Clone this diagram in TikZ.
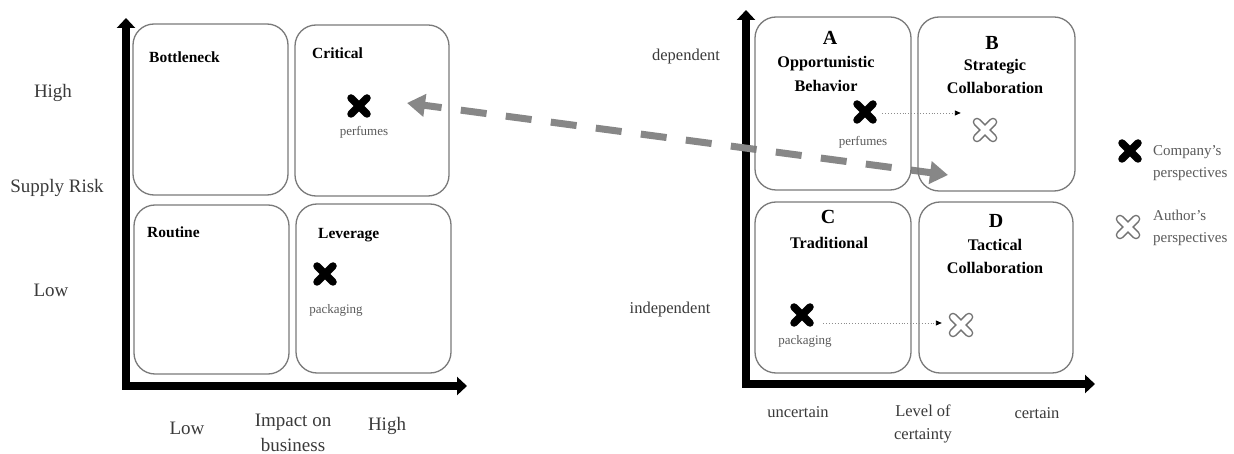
\documentclass[tikz,border=0pt]{standalone}
\usepackage{fontspec}
\setmainfont{Liberation Serif}
\usetikzlibrary{arrows.meta,calc}

\definecolor{labelgray}{HTML}{3A3A3A}
\definecolor{smallgray}{HTML}{5A5A5A}
\definecolor{boxgray}{HTML}{7A7A7A}
\definecolor{linkgray}{HTML}{878787}

\tikzset{
  quad/.style={draw=boxgray, line width=1.3pt, rounded corners=21pt, inner sep=0pt},
  axisline/.style={line width=8.5pt, line join=miter,
    {Triangle[length=10pt,width=18pt]}-{Triangle[length=10pt,width=18pt]}},
  txt/.style={inner sep=0pt, text=labelgray},
  bigaxis/.style={txt, font=\fontsize{19}{25}\selectfont, align=center},
  smallaxis/.style={txt, font=\fontsize{16.5}{23}\selectfont, align=center},
  ttl/.style={inner sep=0pt, font=\bfseries\fontsize{15.5}{18}\selectfont},
  rttl/.style={inner sep=0pt, font=\bfseries\fontsize{16.2}{23.5}\selectfont, align=center},
  letter/.style={inner sep=0pt, font=\bfseries\fontsize{20}{22}\selectfont},
  item/.style={inner sep=0pt, text=smallgray, font=\fontsize{13}{15}\selectfont},
  legtxt/.style={inner sep=0pt, text=smallgray, font=\fontsize{15}{22}\selectfont, align=left},
  xspot/.style={inner sep=0pt, minimum size=24pt},
  dotlink/.style={draw=black!45, line width=0.9pt, dotted,
    -{Triangle[length=6pt,width=5pt,fill=black,color=black]}},
  shiftlink/.style={draw=linkgray, line width=7pt, dash pattern=on 26pt off 19.4pt, dash phase=8pt,
    {Triangle[length=18pt,width=22pt]}-{Triangle[length=18pt,width=22pt]}},
  solidx/.pic={
    \draw[line width=7.5pt, line cap=round] (-8,-8) -- (8,8) (-8,8) -- (8,-8);
  },
  hollowx/.pic={
    \draw[line width=8.6pt, line cap=round, draw=black!55] (-8,-8) -- (8,8) (-8,8) -- (8,-8);
    \draw[line width=5.6pt, line cap=round, draw=white] (-8,-8) -- (8,8) (-8,8) -- (8,-8);
  }
}

\begin{document}
\begin{tikzpicture}[x=1pt,y=-1pt]
\fill[white] (0,0) rectangle (1234,454);
\useasboundingbox (0,0) rectangle (1234,454);

% ---------- Kraljic matrix (left) ----------
\draw[axisline] (126,18) -- (126,386) -- (467,386);

\node[bigaxis] (lhigh) at (53,93) {High};
\node[bigaxis] (lrisk) at (57,188) {Supply Risk};
\node[bigaxis] (llow) at (51,290) {Low};
\node[bigaxis] (blow) at (187,428) {Low};
\node[bigaxis] (bimpact) at (293,432.5) {Impact on\\business};
\node[bigaxis] (bhigh) at (387,426) {High};

% ---------- relationship matrix (right) ----------
\draw[axisline] (746,10) -- (746,384) -- (1095,384);

% link between the two matrices
\coordinate (linkL) at (407,103);
\coordinate (linkR) at (948,175);
\draw[shiftlink] (linkL) -- (linkR);

% quadrants, left matrix
\node[quad, minimum width=155pt, minimum height=171pt] (bottleneck) at (210.5,109.5) {};
\node[quad, minimum width=154pt, minimum height=171pt] (critical) at (372,110.5) {};
\node[quad, minimum width=155pt, minimum height=169pt] (routine) at (211.5,289.5) {};
\node[quad, minimum width=155pt, minimum height=169pt] (leverage) at (373.5,288.5) {};

\node[ttl, anchor=west] (tbott) at (149,57) {Bottleneck};
\node[ttl, anchor=west] (tcrit) at (312,53) {Critical};
\node[ttl, anchor=west] (trout) at (147,232) {Routine};
\node[ttl, anchor=west] (tlev) at (318,235) {Leverage};

\node[xspot] (xcrit) at (359,106) {};
\pic at (xcrit) {solidx};
\node[item] (pcrit) at (364,132) {perfumes};
\node[xspot] (xlev) at (325,274) {};
\pic at (xlev) {solidx};
\node[item] (plev) at (336,310) {packaging};

% quadrants, right matrix
\node[quad, minimum width=156pt, minimum height=173pt] (qa) at (833,103.5) {};
\node[quad, minimum width=157pt, minimum height=174pt] (qb) at (996.5,104) {};
\node[quad, minimum width=156pt, minimum height=171pt] (qc) at (833,287.5) {};
\node[quad, minimum width=154pt, minimum height=171pt] (qd) at (996,287.5) {};

\node[letter] (la) at (830,38) {A};
\node[rttl] (ta) at (826,74) {Opportunistic\\Behavior};
\node[letter] (lb) at (992,43) {B};
\node[rttl] (tb) at (995,76.5) {Strategic\\Collaboration};
\node[letter] (lc) at (828,217) {C};
\node[rttl] (tc) at (829,243) {Traditional};
\node[letter] (ld) at (996,221) {D};
\node[rttl] (td) at (995,256.5) {Tactical\\Collaboration};

\node[smallaxis] (dep) at (686,57) {dependent};
\node[smallaxis] (indep) at (670,310) {independent};
\node[smallaxis] (unc) at (798,412) {uncertain};
\node[smallaxis] (level) at (923,423.5) {Level of\\certainty};
\node[smallaxis] (cert) at (1037,413) {certain};

\node[xspot] (xa) at (865,112) {};
\pic at (xa) {solidx};
\node[item] (pa) at (863,142) {perfumes};
\node[xspot] (xb) at (985,130) {};
\pic at (xb) {hollowx};
\coordinate (sa) at ($(xa.east)+(5,1)$);
\coordinate (ea) at ($(xb.west)+(-12,0)$);
\draw[dotlink] (sa) -- (sa -| ea);

\node[xspot] (xc) at (802,315) {};
\pic at (xc) {solidx};
\node[item] (pc) at (805,341) {packaging};
\node[xspot] (xd) at (961,325) {};
\pic at (xd) {hollowx};
\coordinate (sc) at ($(xc.east)+(9,8)$);
\coordinate (ec) at ($(xd.west)+(-7,0)$);
\draw[dotlink] (sc) -- (sc -| ec);

% legend
\node[xspot] (legco) at (1130,151) {};
\pic at (legco) {solidx};
\node[legtxt, anchor=west] (legcotxt) at (1153,163.5) {Company's\\perspectives};
\node[xspot] (legau) at (1128,227) {};
\pic at (legau) {hollowx};
\node[legtxt, anchor=west] (legautxt) at (1153,227.5) {Author's\\perspectives};
\end{tikzpicture}
\end{document}
